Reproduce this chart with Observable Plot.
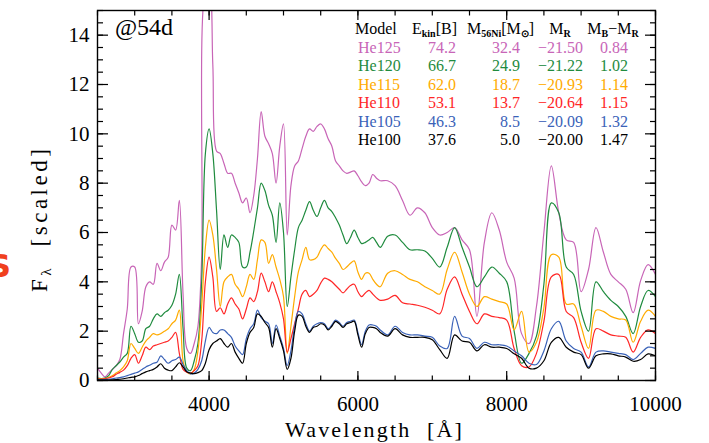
<!DOCTYPE html>
<html>
<head>
<meta charset="utf-8">
<script src="https://cdn.jsdelivr.net/npm/d3@7"></script>
<script src="https://cdn.jsdelivr.net/npm/@observablehq/plot@0.6"></script>
<style>
html,body{margin:0;padding:0;background:#fff;}
#chart{width:709px;height:443px;overflow:hidden;}
</style>
</head>
<body>
<div id="chart"></div>
<script>
// wavelength grid [Å]
const wavelength = [
 2500,2550,2600,2650,2700,2750,2800,2850,2900,2950,
 3000,3050,3100,3150,3200,3250,3300,3350,3400,3450,
 3500,3550,3600,3650,3700,3750,3800,3850,3900,3950,
 4000,4050,4100,4150,4200,4250,4300,4350,4400,4450,
 4500,4550,4600,4650,4700,4750,4800,4850,4900,4950,
 5000,5050,5100,5150,5200,5250,5300,5350,5400,5450,
 5500,5550,5600,5650,5700,5750,5800,5850,5900,5950,
 6000,6050,6100,6150,6200,6250,6300,
 6400,6500,6600,6700,6800,6900,7000,7100,7200,7300,
 7400,7500,7600,7700,7800,7900,8000,8100,8200,8300,
 8400,8500,8600,8700,8800,8900,9000,9100,9200,9300,
 9400,9500,9600,9700,9800,9900,10000];

const fluxHe125 = [
 0.5,0.3,0.15,0.3,0.45,0.6,0.85,1.9,2.9,4.6,
 4.6,2.3,2.8,3.8,4.0,3.9,4.75,4.45,4.8,5.0,
 6.3,6.1,7.3,3.5,1.3,1.1,1.5,2.2,5.0,15.8,
 16.0,12.8,9.3,9.2,8.8,8.4,8.4,8.0,7.6,7.2,
 7.4,6.8,7.5,9.0,10.9,9.9,9.6,9.2,8.0,9.5,
 10.4,5.9,7.9,8.7,8.9,9.4,9.9,10.2,10.1,10.3,
 10.4,10.2,9.8,9.5,8.9,8.7,8.5,8.4,8.45,8.5,
 8.3,8.05,7.9,8.0,8.35,8.2,8.1,
 8.1,7.9,7.3,6.7,7.0,6.8,6.2,5.9,6.0,6.2,
 5.7,5.3,2.6,5.6,6.8,6.1,4.8,4.15,1.9,1.5,
 3.0,6.0,8.7,6.8,5.7,5.6,3.6,4.5,6.2,5.2,
 4.3,4.0,3.7,2.75,4.05,4.7,4.3];

const fluxHe120 = [
 0.1,0.08,0.1,0.2,0.45,0.6,0.75,0.95,1.1,2.2,
 1.9,1.55,1.6,2.1,2.2,2.5,2.7,2.6,2.75,2.85,
 3.05,3.5,4.3,2.1,0.5,0.4,0.8,1.5,4.0,9.2,
 10.2,9.2,6.9,4.5,5.9,5.4,5.9,5.8,5.6,4.6,
 4.6,5.2,6.05,7.0,8.0,7.7,7.1,6.7,5.6,7.2,
 6.0,3.0,4.2,5.3,6.2,6.5,6.9,7.25,6.9,6.65,
 7.0,7.3,7.0,6.85,6.6,6.3,5.9,5.55,5.8,6.1,
 5.8,5.55,5.6,5.7,5.8,5.6,5.4,
 5.85,5.9,5.6,5.3,5.3,5.25,4.95,4.6,5.4,6.2,
 5.4,4.6,3.8,4.2,4.6,4.35,4.0,2.0,0.7,1.1,
 1.8,3.9,7.2,6.8,4.6,4.3,2.8,2.0,4.0,3.6,
 3.25,3.0,2.6,1.9,3.0,3.65,3.4];

const fluxHe115 = [
 0.08,0.06,0.08,0.12,0.2,0.3,0.4,0.55,0.8,1.5,
 1.3,1.1,1.35,1.6,1.75,1.9,1.85,1.9,2.0,2.1,
 2.3,2.45,2.85,0.8,0.35,0.27,0.45,1.2,3.0,5.4,
 6.5,5.9,4.5,3.0,4.0,4.2,4.3,3.9,3.7,3.4,
 3.8,4.3,4.1,4.9,5.7,5.6,4.75,5.1,4.6,4.1,
 3.4,1.1,2.2,3.4,4.4,4.9,5.4,4.9,4.9,5.0,
 5.3,5.5,5.35,5.2,4.95,4.75,4.5,4.6,4.75,4.85,
 4.4,4.1,4.35,4.35,4.1,3.9,3.8,
 4.35,4.45,4.3,4.1,4.0,3.8,3.65,3.5,4.5,5.2,
 4.4,3.5,3.0,3.4,3.3,3.2,3.1,2.05,2.8,1.15,
 1.55,2.95,5.1,5.0,3.1,3.1,2.2,1.3,2.85,2.8,
 2.6,2.5,2.45,1.55,2.4,2.85,2.6];

const fluxHe110 = [
 0.07,0.05,0.07,0.1,0.15,0.25,0.33,0.42,0.6,0.9,
 1.05,0.7,1.0,1.35,1.25,1.4,1.45,1.5,1.55,1.6,
 1.75,1.95,1.1,0.45,0.34,0.3,0.4,0.6,1.6,4.0,
 5.0,4.2,2.8,2.95,2.7,3.1,3.35,3.1,2.9,2.5,
 2.9,3.35,3.2,3.6,4.35,4.0,3.6,4.0,3.6,3.15,
 2.5,1.15,1.7,2.3,2.9,3.5,3.65,3.4,3.5,3.65,
 3.95,4.15,4.1,4.0,3.85,3.7,3.55,3.7,3.85,3.9,
 3.6,3.4,3.55,3.65,3.5,3.35,3.25,
 3.3,3.45,3.15,3.1,3.05,2.97,2.85,2.7,3.7,4.2,
 3.5,2.8,2.3,2.7,2.6,2.55,2.45,1.3,0.6,0.55,
 1.1,2.4,4.2,4.3,2.8,2.55,1.55,0.9,2.1,2.0,
 1.85,1.8,1.75,1.15,1.75,2.05,1.9];

const fluxHe105 = [
 0.05,0.03,0.04,0.05,0.07,0.1,0.12,0.15,0.2,0.25,
 0.3,0.35,0.45,0.55,0.62,0.7,0.74,1.0,0.85,0.7,
 0.8,0.85,0.95,0.65,0.4,0.27,0.3,0.45,0.8,1.6,
 2.15,1.95,1.9,2.05,2.05,1.9,1.75,1.4,1.2,1.05,
 1.7,2.1,2.3,2.85,2.55,2.4,2.3,1.5,2.25,1.8,
 1.3,0.6,1.2,2.2,2.8,2.7,2.3,2.0,2.2,2.3,
 2.35,2.3,2.1,2.25,2.45,2.35,2.2,2.35,2.4,2.45,
 1.95,1.45,2.0,2.25,2.25,2.2,2.05,
 1.85,2.2,1.95,1.85,1.85,1.8,1.75,1.4,1.3,2.6,
 1.8,1.7,1.3,1.55,1.45,1.45,1.4,1.2,1.0,0.7,
 0.65,1.2,2.1,2.4,1.6,1.3,1.15,0.55,1.15,1.2,
 1.15,1.1,1.05,0.85,1.1,1.35,1.3];

const fluxHe100 = [
 0.03,0.02,0.02,0.02,0.03,0.04,0.05,0.07,0.1,0.13,
 0.15,0.2,0.28,0.35,0.4,0.45,0.55,0.68,0.5,0.42,
 0.4,0.55,0.72,0.55,0.35,0.3,0.28,0.32,0.4,0.7,
 1.25,1.5,1.6,1.7,1.5,1.35,1.5,1.15,0.9,0.7,
 1.5,1.95,2.15,2.7,2.6,2.35,2.15,1.35,2.1,1.7,
 1.2,0.45,0.9,2.0,2.65,2.6,2.2,1.95,2.15,2.2,
 2.3,2.25,2.05,2.2,2.4,2.3,2.15,2.3,2.35,2.4,
 1.85,1.35,1.9,2.15,2.15,2.1,1.95,
 1.8,2.1,1.85,1.75,1.75,1.75,1.65,1.25,0.9,1.85,
 1.6,1.55,1.2,1.45,1.35,1.35,1.3,1.08,0.9,0.5,
 0.5,0.8,1.55,1.75,1.35,1.15,1.05,0.5,1.0,1.08,
 1.08,1.0,0.95,0.78,0.85,1.08,1.0];

const models = ["He125","He120","He115","He110","He105","He100"];
const lineColors = ["#c865b7","#1f8b3e","#ffab00","#ff2626","#3a62b8","#000000"];
const eKin = ["74.2","66.7","62.0","53.1","46.3","37.6"];
const mNi56 = ["32.4","24.9","18.7","13.7","8.5","5.0"];
const magR = ["\u221221.50","\u221221.22","\u221220.93","\u221220.64","\u221220.09","\u221220.00"];
const colorBR = ["0.84","1.02","1.14","1.15","1.32","1.47"];

const xLabelTicks = [4000,6000,8000,10000];
const xMinorTicks = [2500,3000,3500,4000,4500,5000,5500,6000,6500,7000,7500,8000,8500,9000,9500,10000];
const yLabelTicks = [0,2,4,6,8,10,12,14];
const yMinorTicks = [0,0.5,1,1.5,2,2.5,3,3.5,4,4.5,5,5.5,6,6.5,7,7.5,8,8.5,9,9.5,10,10.5,11,11.5,12,12.5,13,13.5,14,14.5,15];

const series = [fluxHe125, fluxHe120, fluxHe115, fluxHe110, fluxHe105, fluxHe100];
const rows = [];
models.forEach((m, k) => wavelength.forEach((w, i) => rows.push({model: m, wavelength: w, flux: series[k][i]})));

const serif = "Liberation Serif";
const noText = () => "";
const plot = Plot.plot({
  width: 709, height: 443,
  marginLeft: 97, marginRight: 54, marginTop: 10, marginBottom: 63,
  x: {domain: [2500, 10000], label: null},
  y: {domain: [0, 15], label: null},
  color: {domain: models, range: lineColors},
  style: {fontFamily: serif, color: "#000", background: "#fff", overflow: "hidden"},
  marks: [
    Plot.line(rows, {x: "wavelength", y: "flux", z: "model", stroke: "model", strokeWidth: 1.2, curve: "catmull-rom", clip: true}),
    Plot.frame({stroke: "#000", strokeWidth: 1.4}),
    Plot.axisX(xMinorTicks, {anchor: "bottom", tickSize: -4.5, tickFormat: noText, label: null, strokeWidth: 1.2}),
    Plot.axisX(xLabelTicks, {anchor: "bottom", tickSize: -9, tickFormat: noText, label: null, strokeWidth: 1.2}),
    Plot.axisX(xMinorTicks, {anchor: "top", tickSize: -4.5, tickFormat: noText, label: null, strokeWidth: 1.2}),
    Plot.axisX(xLabelTicks, {anchor: "top", tickSize: -9, tickFormat: noText, label: null, strokeWidth: 1.2}),
    Plot.axisX(xLabelTicks, {anchor: "bottom", tickSize: 0, tickPadding: 16, tickFormat: d3.format("d"), fontSize: 21, fontFamily: serif, label: null}),
    Plot.axisY(yMinorTicks, {anchor: "left", tickSize: -6, tickFormat: noText, label: null, strokeWidth: 1.2}),
    Plot.axisY(yLabelTicks, {anchor: "left", tickSize: -11, tickFormat: noText, label: null, strokeWidth: 1.2}),
    Plot.axisY(yMinorTicks, {anchor: "right", tickSize: -6, tickFormat: noText, label: null, strokeWidth: 1.2}),
    Plot.axisY(yLabelTicks, {anchor: "right", tickSize: -11, tickFormat: noText, label: null, strokeWidth: 1.2}),
    Plot.axisY(yLabelTicks, {anchor: "left", tickSize: 0, tickPadding: 8, tickFormat: d3.format("d"), fontSize: 21, fontFamily: serif, label: null})
  ]
});
document.getElementById("chart").appendChild(plot);

// annotations
const svg = d3.select(plot);
const ann = svg.append("g").attr("font-family", serif).attr("fill", "#000").attr("text-anchor", "start");

ann.append("text").attr("x", 115).attr("y", 35).attr("font-size", 24).text("@54d");

function richText(parent, x, y, anchor, parts, fill) {
  const t = parent.append("text").attr("x", x).attr("y", y).attr("text-anchor", anchor)
    .attr("font-size", 16).attr("fill", fill || "#000");
  let inSub = false;
  parts.forEach(([s, sub]) => {
    const sp = t.append("tspan").text(s);
    if (sub && !inSub) sp.attr("dy", 3);
    if (!sub && inSub) sp.attr("dy", -3);
    if (sub) sp.attr("font-size", 10).attr("font-weight", "bold");
    inSub = sub;
  });
  return t;
}

const headerY = 34;
richText(ann, 355, headerY, "start", [["Model", false]]);
richText(ann, 412, headerY, "start", [["E", false], ["kin", true], ["[B]", false]]);
richText(ann, 467, headerY, "start", [["M", false], ["56Ni", true], ["[M", false], ["\u2299", true], ["]", false]]);
richText(ann, 560, headerY, "middle", [["M", false], ["R", true]]);
richText(ann, 613, headerY, "middle", [["M", false], ["B", true], ["\u2212M", false], ["R", true]]);

const rowY0 = 53, rowStep = 18.4;
models.forEach((m, i) => {
  const y = rowY0 + i * rowStep;
  const c = lineColors[i];
  const g = ann.append("g").attr("fill", c).attr("font-size", 16);
  g.append("text").attr("x", 358).attr("y", y).attr("text-anchor", "start").text(m);
  g.append("text").attr("x", 456).attr("y", y).attr("text-anchor", "end").text(eKin[i]);
  g.append("text").attr("x", 520).attr("y", y).attr("text-anchor", "end").text(mNi56[i]);
  g.append("text").attr("x", 583).attr("y", y).attr("text-anchor", "end").text(magR[i]);
  g.append("text").attr("x", 628).attr("y", y).attr("text-anchor", "end").text(colorBR[i]);
});

// axis titles
const yt = ann.append("text").attr("transform", "translate(47,292) rotate(-90)")
  .attr("text-anchor", "start").attr("font-size", 23).style("letter-spacing", "3.5px");
yt.append("tspan").text("F");
yt.append("tspan").attr("dy", 4).attr("font-size", 15).text("\u03bb");
yt.append("tspan").attr("dy", -4).style("white-space", "pre").text("  [scaled]");

ann.append("text").attr("x", 285).attr("y", 437).attr("text-anchor", "start")
  .attr("font-size", 22).style("letter-spacing", "2.2px")
  .style("white-space", "pre").text("Wavelength  [\u00c5]");

// cropped letter at the left edge of the original figure
ann.append("text").attr("x", -12).attr("y", 277).attr("text-anchor", "start").attr("font-family", "'DejaVu Sans', sans-serif")
  .attr("font-weight", "bold").attr("font-size", 32).attr("fill", "#f0401e").text("S");
</script>
</body>
</html>
